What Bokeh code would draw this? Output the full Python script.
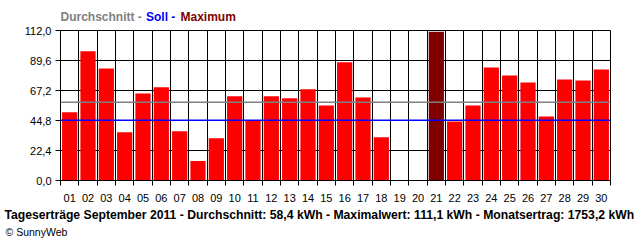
from bokeh.plotting import figure
from bokeh.layouts import column
from bokeh.models import (ColumnDataSource, FixedTicker, CustomJSTickFormatter, Span, Label, Range1d, Title)
from bokeh.embed import file_html
from bokeh.resources import INLINE

# ---- data ----
days = list(range(1, 31))
day_labels = ["%02d" % d for d in days]
yields_kwh = [51.0, 96.5, 83.6, 36.0, 65.0, 69.6, 36.8, 14.5, 31.5, 63.0,
              45.0, 63.0, 61.5, 68.2, 56.0, 88.3, 62.0, 32.3, 0.0, 0.0,
              111.1, 44.1, 56.0, 84.3, 78.4, 73.2, 47.8, 75.4, 74.6, 82.8]
y_ticks = [0.0, 22.4, 44.8, 67.2, 89.6, 112.0]
average_kwh = 58.4
target_kwh = 45.0
title_parts = ["Durchschnitt -", "Soll -", "Maximum"]
footer_text = "Tageserträge September 2011 - Durchschnitt: 58,4 kWh - Maximalwert: 111,1 kWh - Monatsertrag: 1753,2 kWh"
copyright_text = "© SunnyWeb"

# ---- layout ----
W = 640
HEAD_H = 24
MAIN_H = 240 - HEAD_H
L, R, T, B = 60, 30, 6, 60
XMIN, XMAX = 0.5, 30.5
YMIN, YMAX = 0.0, 112.0

# ---- header (multi-coloured legend title); frame aligned with main frame ----
head = figure(width=W, height=HEAD_H, output_backend="svg", toolbar_location=None,
              x_range=Range1d(L, W - R), y_range=Range1d(HEAD_H, 0),
              x_axis_location=None, y_axis_location=None,
              min_border_left=L, min_border_right=R, min_border_top=0, min_border_bottom=0)
head.outline_line_color = None
head.grid.visible = False
head.background_fill_color = "white"
head.border_fill_color = "white"
title_colors = ["#808080", "#0000ff", "#800000"]
title_px = [60, 145.5, 180]
for txt, col, px in zip(title_parts, title_colors, title_px):
    head.add_layout(Label(x=px, y=16.5, text=txt, text_color=col, text_font="Liberation Sans",
                          text_font_style="bold", text_font_size="12px",
                          text_baseline="middle", text_align="left"))

# ---- main chart ----
colors = ["#800000" if v == max(yields_kwh) else "#ff0000" for v in yields_kwh]
src = ColumnDataSource(dict(x=days, top=yields_kwh, color=colors))

p = figure(width=W, height=MAIN_H, output_backend="svg", toolbar_location=None,
           x_range=Range1d(XMIN, XMAX), y_range=Range1d(YMIN, YMAX),
           min_border_left=L, min_border_right=R, min_border_top=T, min_border_bottom=B)
p.background_fill_color = "white"
p.border_fill_color = "white"
p.outline_line_color = "black"
p.outline_line_width = 1

p.vbar(x="x", top="top", width=0.83, bottom=0, fill_color="color", line_color=None, source=src)

p.add_layout(Span(location=average_kwh, dimension="width", line_color="#808080", line_width=1.5))
p.add_layout(Span(location=target_kwh, dimension="width", line_color="#0000ff", line_width=1.6))

boundaries = [d - 0.5 for d in days] + [days[-1] + 0.5]
p.xaxis.ticker = FixedTicker(ticks=days, minor_ticks=boundaries)
p.xaxis.formatter = CustomJSTickFormatter(args=dict(labels=day_labels),
                                          code="return labels[Math.round(tick)-1];")
p.xaxis.major_tick_out = 0
p.xaxis.major_tick_in = 0
p.xaxis.minor_tick_out = 5
p.xaxis.minor_tick_in = 0
p.xaxis.minor_tick_line_color = "black"
p.xaxis.axis_line_color = "black"
p.xaxis.major_label_standoff = 8
p.xgrid.grid_line_color = None
p.xgrid.minor_grid_line_color = "black"
p.xgrid.minor_grid_line_width = 1

p.yaxis.ticker = FixedTicker(ticks=y_ticks, minor_ticks=[])
p.yaxis.formatter = CustomJSTickFormatter(code="return tick.toFixed(1).replace('.', ',');")
p.yaxis.major_tick_out = 5
p.yaxis.major_tick_in = 0
p.yaxis.minor_tick_line_color = None
p.yaxis.axis_line_color = "black"
p.yaxis.major_label_standoff = 4
p.ygrid.grid_line_color = "black"
p.ygrid.grid_line_width = 1

for ax in (p.xaxis, p.yaxis):
    ax.major_label_text_font = "Liberation Sans"
    ax.major_label_text_font_size = "11px"
    ax.major_label_text_color = "black"
    ax.major_tick_line_color = "black"

p.add_layout(Title(text=footer_text, align="left", text_font="Liberation Sans",
                   text_font_style="bold", text_font_size="12.2px", text_color="black",
                   standoff=3, offset=-56), "below")
p.add_layout(Title(text=copyright_text, align="left", text_font="Liberation Sans",
                   text_font_style="normal", text_font_size="10.5px", text_color="black",
                   standoff=0, offset=-55), "below")

layout = column(head, p, spacing=0)
open("out.html", "w").write(file_html(layout, INLINE))
